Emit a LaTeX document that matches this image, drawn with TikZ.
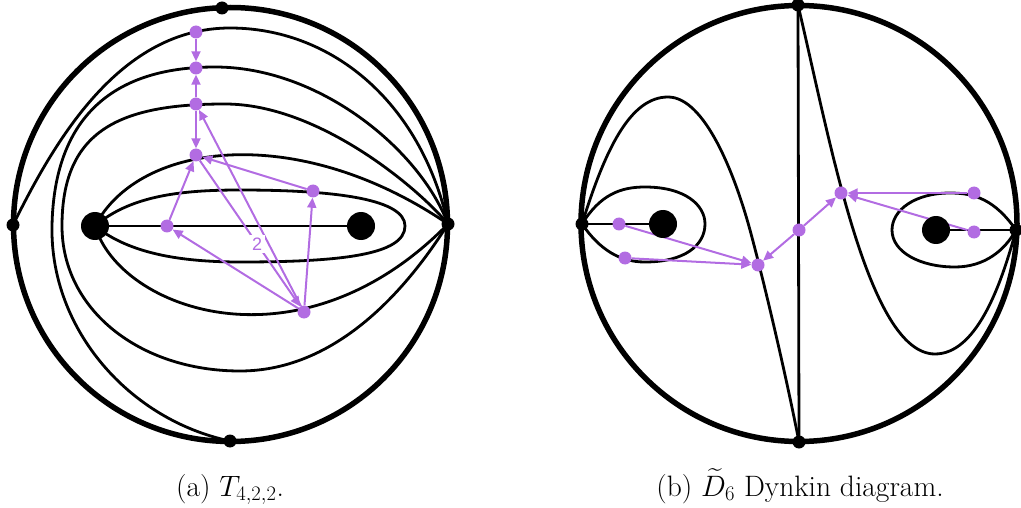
\RequirePackage{fix-cm}
\documentclass[tikz,border=0pt]{standalone}
\usepackage{amsmath}
\usepackage{fontspec}
\newfontfamily\numfont{Liberation Sans}
\usepackage{tikz}
\usetikzlibrary{arrows.meta}
\definecolor{quivpurple}{RGB}{178,108,226}

\begin{document}
\begin{tikzpicture}[x=1pt,y=-1pt,
  rim/.style={line width=5.5pt},
  arc/.style={line width=2.8pt},
  bnode/.style={circle,fill=black,inner sep=0pt,minimum size=13pt},
  puncture/.style={circle,fill=black,inner sep=0pt,minimum size=28pt},
  qv/.style={circle,fill=quivpurple,inner sep=0pt,minimum size=13pt},
  qarrow/.style={draw=quivpurple,line width=2pt,-{Triangle[length=10pt,width=9pt]}},
  weight/.style={fill=white,inner sep=2.5pt,text=quivpurple,font=\numfont\fontsize{18}{20}\selectfont},
  caption/.style={anchor=base,font=\fontsize{29.5}{35}\selectfont}]
\useasboundingbox (0,0) rectangle (1021,508);

% (a)
\draw[rim] (230.5,224.5) circle[radius=217];
\coordinate (aT) at (222,8);
\coordinate (aL) at (13,225);
\coordinate (aR) at (448,224);
\coordinate (aB) at (230,441);
\coordinate (aX) at (95,226);
\coordinate (aY) at (361,226);
\draw[arc] (aX)--(aY);
\draw[arc] (aX) .. controls (130,196) and (180,190) .. (240,190) .. controls (340,190) and (405,200) .. (405,226) .. controls (405,255) and (340,262) .. (240,262) .. controls (170,262) and (125,250) .. (aX);
\draw[arc] (aX) .. controls (140,140) and (300,123) .. (aR) .. controls (300,375) and (120,310) .. (aX);
\draw[arc] (aR) .. controls (420,190) and (320,104) .. (225,104) .. controls (120,104) and (62,130) .. (62,226) .. controls (62,310) and (140,371) .. (240,371) .. controls (330,371) and (400,300) .. (aR);
\draw[arc] (aR) .. controls (420,150) and (320,67) .. (215,67) .. controls (110,67) and (54,120) .. (52,226) .. controls (50,330) and (130,420) .. (aB);
\draw[arc] (aL) .. controls (55,140) and (120,28) .. (230,28) .. controls (330,28) and (420,100) .. (aR);

\node[qv] (p1) at (196,32) {};
\node[qv] (p2) at (196,68) {};
\node[qv] (p3) at (196,104) {};
\node[qv] (p4) at (196,155) {};
\node[qv] (p5) at (167,226) {};
\node[qv] (p6) at (313,191) {};
\node[qv] (p7) at (304,312) {};
\draw[qarrow] (p1)--(p2);
\draw[qarrow] (p3)--(p2);
\draw[qarrow] (p3)--(p4);
\draw[qarrow] (p5)--(p4);
\draw[qarrow] (p6)--(p4);
\draw[qarrow] (p7)--(p3);
\draw[qarrow] (p4)-- node[weight,pos=0.57]{2} (p7);
\draw[qarrow] (p7)--(p5);
\draw[qarrow] (p7)--(p6);

\node[puncture] (a1) at (aX) {};
\node[puncture] (a2) at (aY) {};
\foreach \v in {aT,aL,aR,aB}
  \node[bnode] at (\v) {};

% (b)
\draw[rim] (799,223.5) circle[radius=218];
\coordinate (bT) at (798,5);
\coordinate (bB) at (799,442);
\coordinate (bL) at (582,224);
\coordinate (bR) at (1016,230);
\coordinate (bX) at (663,224);
\coordinate (bY) at (936,230);
\draw[arc] (bT)--(bB);
\draw[arc] (bL)--(bX);
\draw[arc] (bY)--(bR);
\draw[arc] (bL) .. controls (600,195) and (620,187) .. (645,187) .. controls (685,187) and (705,205) .. (705,224) .. controls (705,245) and (685,262) .. (645,262) .. controls (620,262) and (600,250) .. (bL);
\draw[arc] (bR) .. controls (995,200) and (975,193) .. (950,193) .. controls (915,193) and (892,210) .. (892,230) .. controls (892,252) and (920,267) .. (955,267) .. controls (985,267) and (1005,250) .. (bR);
\draw[arc] (bL) .. controls (605,150) and (630,97) .. (668,97) .. controls (705,97) and (735,175) .. (750,230) .. controls (762,274) and (785,370) .. (bB);
\draw[arc] (bT) .. controls (830,140) and (868,354) .. (935,354) .. controls (975,354) and (1000,290) .. (bR);

\node[qv] (q1) at (619,224) {};
\node[qv] (q2) at (625,258) {};
\node[qv] (q3) at (758,265) {};
\node[qv] (q4) at (799,230) {};
\node[qv] (q5) at (841,193) {};
\node[qv] (q6) at (974,193) {};
\node[qv] (q7) at (974,232) {};
\draw[qarrow] (q1)--(q3);
\draw[qarrow] (q2)--(q3);
\draw[qarrow] (q4)--(q3);
\draw[qarrow] (q4)--(q5);
\draw[qarrow] (q6)--(q5);
\draw[qarrow] (q7)--(q5);

\node[puncture] (b1) at (bX) {};
\node[puncture] (b2) at (bY) {};
\foreach \v in {bT,bL,bR,bB}
  \node[bnode] at (\v) {};

\node[caption] (capA) at (230,496) {(a) $T_{4,2,2}$.};
\node[caption] (capB) at (800,496) {(b) $\widetilde{D}_6$ Dynkin diagram.};
\end{tikzpicture}
\end{document}
